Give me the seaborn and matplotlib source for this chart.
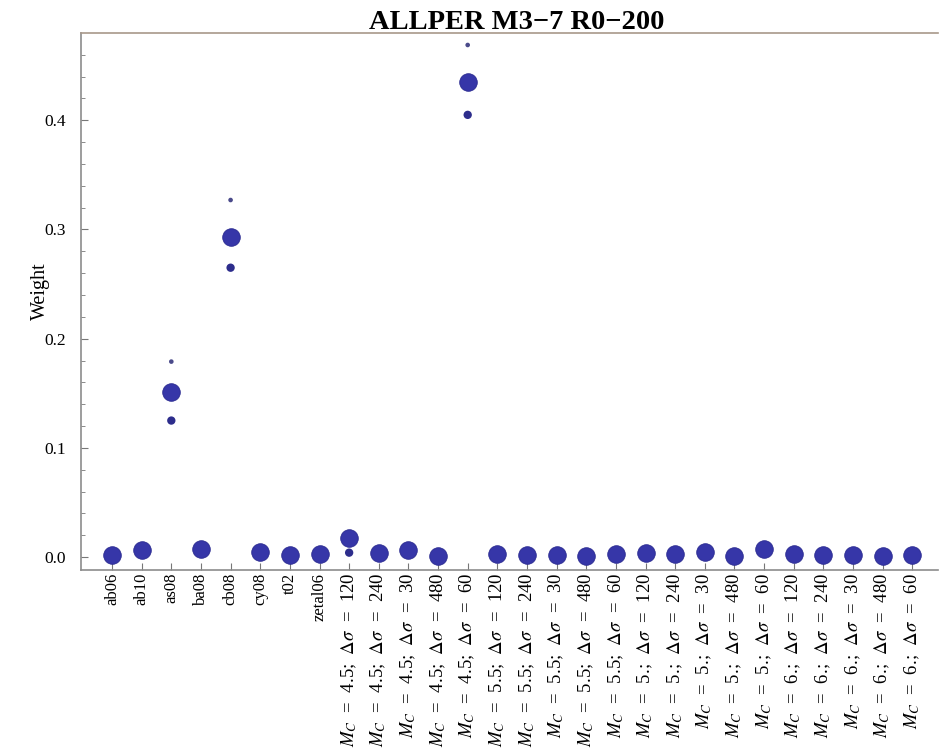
import numpy as np
import pandas as pd
import matplotlib
matplotlib.use("Agg")
import matplotlib.pyplot as plt
import seaborn as sns
from matplotlib.ticker import MultipleLocator

sns.set_style("white")
plt.rcParams['font.family'] = ['Liberation Serif', 'DejaVu Serif']
plt.rcParams['mathtext.fontset'] = 'stix'
plt.rcParams['text.color'] = 'black'
plt.rcParams['axes.labelcolor'] = 'black'
plt.rcParams['xtick.color'] = 'black'
plt.rcParams['ytick.color'] = 'black'

# ---- data ----
base_names = ["ab06", "ab10", "as08", "ba08", "cb08", "cy08", "t02", "zetal06"]
mc_values = ["4.5", "4.5", "4.5", "4.5", "4.5",
             "5.5", "5.5", "5.5", "5.5", "5.5",
             "5.", "5.", "5.", "5.", "5.",
             "6.", "6.", "6.", "6.", "6."]
dsigma_values = ["120", "240", "30", "480", "60"] * 4

categories = base_names + [
    r"$M_C$  =  " + m + r";  $\Delta\sigma$  =  " + d
    for m, d in zip(mc_values, dsigma_values)
]

weight = [0.002, 0.0065, 0.151, 0.007, 0.293, 0.005, 0.002, 0.003,
          0.017, 0.004, 0.0065, 0.001, 0.435,
          0.003, 0.0015, 0.0015, 0.0005, 0.003,
          0.004, 0.003, 0.005, 0.0005, 0.007,
          0.003, 0.002, 0.0015, 0.0005, 0.002]

lower = [np.nan, np.nan, 0.125, np.nan, 0.265, np.nan, np.nan, np.nan,
         0.004, np.nan, np.nan, np.nan, 0.405,
         np.nan, np.nan, np.nan, np.nan, np.nan,
         np.nan, np.nan, np.nan, np.nan, np.nan,
         np.nan, np.nan, np.nan, np.nan, np.nan]

upper = [np.nan, np.nan, 0.179, np.nan, 0.327, np.nan, np.nan, np.nan,
         np.nan, np.nan, np.nan, np.nan, 0.469,
         np.nan, np.nan, np.nan, np.nan, np.nan,
         np.nan, np.nan, np.nan, np.nan, np.nan,
         np.nan, np.nan, np.nan, np.nan, np.nan]

title = "ALLPER M3\u22127 R0\u2212200"

df = pd.DataFrame({"category": categories, "weight": weight,
                   "lower": lower, "upper": upper})

dot_color = "#3636a8"

fig = plt.figure(figsize=(9.39, 7.52), dpi=100)
ax = fig.add_axes([0.0863, 0.242, 0.913, 0.714])

sns.scatterplot(data=df, x="category", y="weight", ax=ax, s=160,
                color=dot_color, edgecolor="#2a2a90", linewidth=0.6, zorder=3)
sub_l = df.dropna(subset=["lower"])
sns.scatterplot(data=sub_l, x="category", y="lower", ax=ax, s=36,
                color="#2d2d8c", edgecolor="none", zorder=3)
sub_u = df.dropna(subset=["upper"])
sns.scatterplot(data=sub_u, x="category", y="upper", ax=ax, s=11,
                color="#4a4a8a", edgecolor="none", zorder=3)

ax.set_xlim(-1.046, 27.88)
ax.set_ylim(-0.0119, 0.4799)
ax.set_xticks(range(len(categories)))
ax.set_xticklabels(categories, rotation=90)
for i, lab in enumerate(ax.get_xticklabels()):
    lab.set_fontsize(12 if i < len(base_names) else 13.5)
ax.yaxis.set_major_locator(MultipleLocator(0.1))
ax.yaxis.set_minor_locator(MultipleLocator(0.02))
ax.yaxis.set_major_formatter(matplotlib.ticker.FormatStrFormatter('%.1f'))
ax.tick_params(axis='y', which='major', direction='in', length=5, width=0.8,
               color='#777777', labelsize=12.5, pad=11, left=True)
ax.tick_params(axis='y', which='minor', direction='in', length=3, width=0.6,
               color='#777777', left=True)
ax.tick_params(axis='x', which='major', direction='in', length=5, width=0.8,
               color='#777777', pad=2, bottom=True)

ax.set_xlabel("")
ax.set_ylabel("Weight", fontsize=14.5)
ax.yaxis.set_label_coords(-0.036, 0.52)
ax.set_title(title, fontsize=20.5, fontweight='bold', pad=3, x=0.508)

for side in ["left", "bottom", "top"]:
    ax.spines[side].set_color("#8c8c8c")
    ax.spines[side].set_linewidth(1.2)
ax.spines["top"].set_color("#a8988a")
ax.spines["right"].set_visible(False)

fig.savefig("out.png", dpi=100)
